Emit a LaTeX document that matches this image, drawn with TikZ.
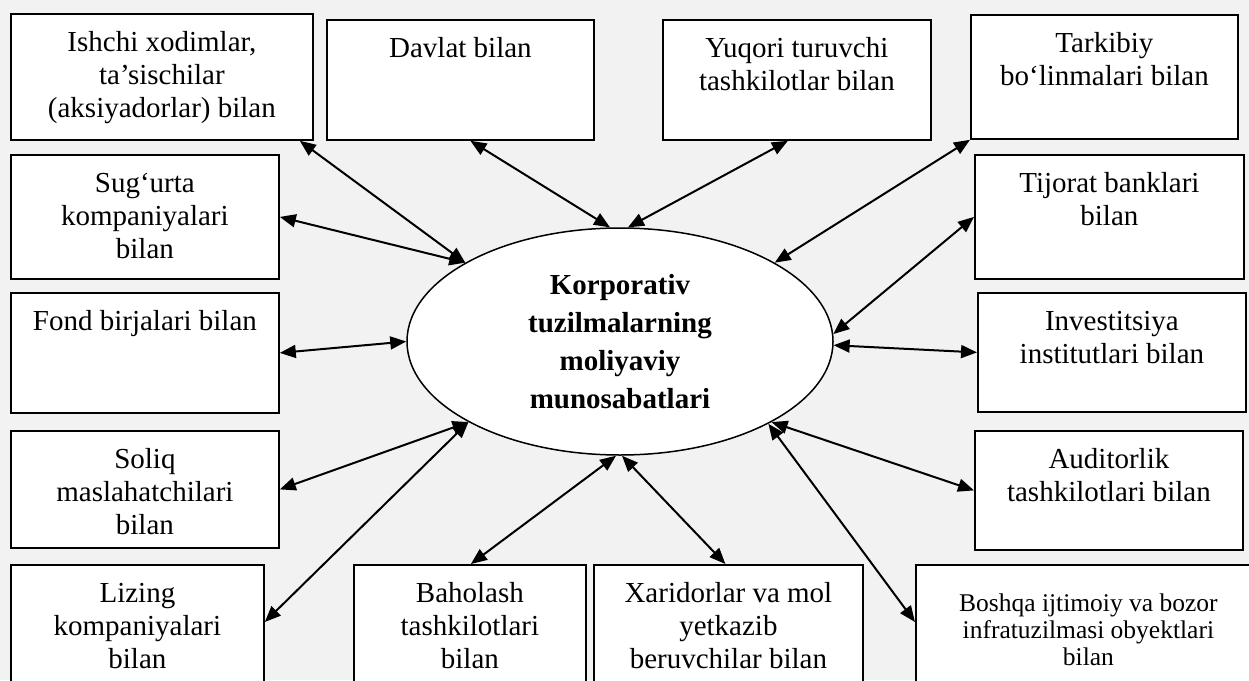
\documentclass[tikz,border=0pt]{standalone}
\usepackage{fontspec}
\setmainfont{Liberation Serif}
\usetikzlibrary{arrows.meta,shapes.geometric,calc}
\definecolor{paper}{HTML}{F2F2F2}
% top-aligned, centred text block of fixed size: [first baseline]{width}{height}{text}
\newcommand\btext[4][38pt]{\parbox[t][#3][t]{#2}{\centering\rule{0pt}{#1}#4}}

\begin{document}
\begin{tikzpicture}[x=1pt,y=-1pt,
  card/.style={draw, line width=1.8pt, fill=white, inner sep=0pt, anchor=north west,
    font=\fontsize{29}{33}\selectfont},
  hub/.style={draw, ellipse, line width=1.5pt, fill=white, inner sep=0pt,
    minimum width=426pt, minimum height=227pt, align=center,
    font=\bfseries\fontsize{29}{38}\selectfont},
  link/.style={line width=2pt,
    {Triangle[length=16pt,width=13pt]}-{Triangle[length=16pt,width=13pt]}}]

  \fill[paper] (0,0) rectangle (1249,680);
  \useasboundingbox (0,0) rectangle (1249,680);
  \clip (0,0) rectangle (1249,680);

  % centre
  \node[hub] (hub) at (620,341.5) {Korporativ\\tuzilmalarning\\moliyaviy\\munosabatlari};

  % top row
  \node[card] (ishchi) at (10,13) {\btext{302pt}{126pt}{Ishchi xodimlar,\\ ta’sischilar\\ (aksiyadorlar) bilan}};
  \node[card] (davlat) at (326,19) {\btext{267pt}{120pt}{Davlat bilan}};
  \node[card] (yuqori) at (662,19) {\btext{268pt}{120pt}{Yuqori turuvchi\\ tashkilotlar bilan}};
  \node[card] (tarkib) at (970,14) {\btext{267pt}{124pt}{Tarkibiy\\ bo‘linmalari bilan}};

  % left column
  \node[card] (sugurta) at (10,154) {\btext{268pt}{124pt}{Sug‘urta\\ kompaniyalari\\ bilan}};
  \node[card] (fond) at (10,292) {\btext{268pt}{120pt}{Fond birjalari bilan}};
  \node[card] (soliq) at (10,430) {\btext{268pt}{117pt}{Soliq\\ maslahatchilari\\ bilan}};

  % right column
  \node[card] (tijorat) at (974,154) {\btext{269pt}{124pt}{Tijorat banklari\\ bilan}};
  \node[card] (invest) at (977,292) {\btext{268pt}{119pt}{Investitsiya\\ institutlari bilan}};
  \node[card] (auditor) at (974,430) {\btext{268pt}{119pt}{Auditorlik\\ tashkilotlari bilan}};

  % bottom row
  \node[card] (lizing) at (10,564) {\btext{253pt}{140pt}{Lizing\\ kompaniyalari\\ bilan}};
  \node[card] (baholash) at (353,564) {\btext{232pt}{140pt}{Baholash\\ tashkilotlari\\ bilan}};
  \node[card] (xaridor) at (593,564) {\btext{269pt}{140pt}{Xaridorlar va mol\\ yetkazib\\ beruvchilar bilan}};
  \node[card] (boshqa) at (915,564) {\btext[47pt]{345pt}{140pt}{\fontsize{25.5}{27}\selectfont Boshqa ijtimoiy va bozor\\ infratuzilmasi obyektlari\\ bilan}};

  % two-way links
  \draw[link] ([xshift=-14pt]ishchi.south east) -- (hub.153);
  \draw[link] ([xshift=10pt]davlat.south) -- (hub.95);
  \draw[link] ([xshift=-9pt]yuqori.south) -- (hub.86);
  \draw[link] (tarkib.south west) -- (hub.27);
  \draw[link] (sugurta.east) -- (hub.153);
  \draw[link] (fond.east) -- (hub.180);
  \draw[link] (tijorat.west) -- (hub.2);
  \draw[link] (hub.359) -- (invest.west);
  \draw[link] (soliq.east) -- (hub.208);
  \draw[link] ([yshift=-58pt]lizing.north east) -- (hub.208);
  \draw[link] ([xshift=1pt]baholash.north) -- (hub.268);
  \draw[link] ([xshift=-3pt]xaridor.north) -- (hub.271);
  \draw[link] (hub.332) -- (auditor.west);
  \draw[link] (hub.331) -- ([yshift=-58pt]boshqa.north west);
\end{tikzpicture}
\end{document}
